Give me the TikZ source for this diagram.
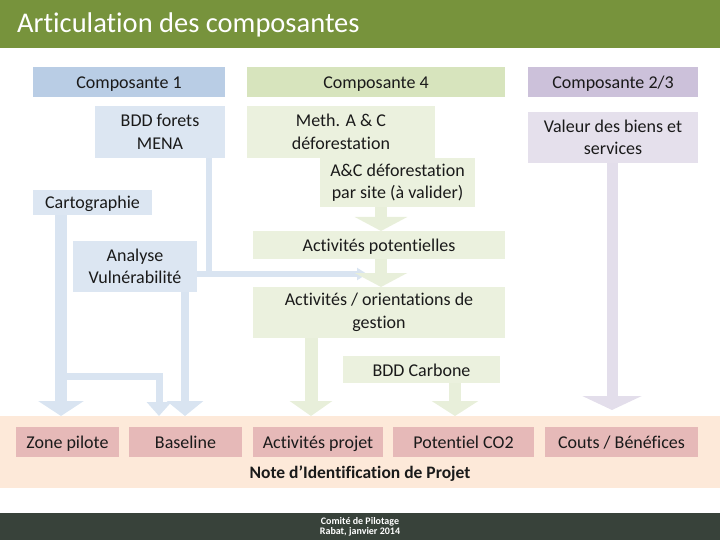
\documentclass[tikz,border=0pt]{standalone}
\usepackage{fontspec}
\setmainfont{Carlito}[Ligatures={NoCommon}]
\usetikzlibrary{arrows.meta,calc}
\definecolor{titlegreen}{HTML}{77933C}
\definecolor{footer}{HTML}{38423A}
\definecolor{cAhead}{HTML}{B9CDE5}
\definecolor{cAbox}{HTML}{DCE6F2}
\definecolor{cAarr}{HTML}{D9E4F1}
\definecolor{cBhead}{HTML}{D7E4BD}
\definecolor{cBbox}{HTML}{EBF1DE}
\definecolor{cBarr}{HTML}{E8EFDA}
\definecolor{cChead}{HTML}{CCC1DA}
\definecolor{cCbox}{HTML}{E5E0EC}
\definecolor{cCarr}{HTML}{E3DEEB}
\definecolor{peach}{HTML}{FDE9D9}
\definecolor{pinkbox}{HTML}{E6B9B8}
\definecolor{txt}{HTML}{1A1A1A}
\pgfdeclarelayer{back}
\pgfdeclarelayer{mid}
\pgfsetlayers{back,mid,main}
\begin{document}
\begin{tikzpicture}[x=1pt,y={(0pt,-1pt)},
  box/.style={inner sep=0pt, outer sep=0pt, align=center, anchor=north west, text=txt, font=\fontsize{18}{22.5}\selectfont},
  one/.style={box, text height=14pt, text depth=1pt},
  bl/.style={draw=cAarr, line join=miter},
  gr/.style={draw=cBarr, line join=miter},
  pu/.style={draw=cCarr, line join=miter}]
\useasboundingbox (0,0) rectangle (720,540);
% title bar
\fill[titlegreen] (0,0) rectangle (720,48);
\node[anchor=west, text=white, inner sep=0pt, font=\fontsize{28.5}{30}\selectfont] (title) at (17,25) {Articulation des composantes};
% footer
\fill[footer] (0,513) rectangle (720,540);
\node[text=white, align=center, inner sep=0pt, font=\bfseries\fontsize{10}{10.5}\selectfont] (foot) at (360,527) {Comité de Pilotage\\Rabat, janvier 2014};
% band
\begin{pgfonlayer}{back}
\node[anchor=north west, fill=peach, minimum width=720pt, minimum height=72pt, inner sep=0pt] (band) at (0,416) {};
\end{pgfonlayer}
% composante 1
\node[one, fill=cAhead, minimum width=192pt, minimum height=30pt] (c1) at (33,67) {Composante 1};
\node[box, fill=cAbox, minimum width=130pt, minimum height=52pt] (bdd) at (95,106) {BDD forets\\MENA};
\node[one, fill=cAbox, minimum width=119pt, minimum height=25pt] (carto) at (33,190) {Cartographie};
\node[box, fill=cAbox, minimum width=124pt, minimum height=51pt] (vuln) at (73,241) {Analyse\\Vulnérabilité};
% composante 4
\node[one, fill=cBhead, minimum width=258pt, minimum height=30pt] (c4) at (247,67) {Composante 4};
\node[box, fill=cBbox, minimum width=188pt, minimum height=52pt] (meth) at (247,106) {Meth. A \& C\\déforestation};
\node[box, fill=cBbox, minimum width=155pt, minimum height=49pt] (acsite) at (320,158) {A\&C déforestation\\par site (à valider)};
\node[one, fill=cBbox, minimum width=252pt, minimum height=28pt] (actpot) at (253,231) {Activités potentielles};
\node[box, fill=cBbox, minimum width=252pt, minimum height=51pt] (actor) at (253,287) {Activités / orientations de\\gestion};
\node[one, fill=cBbox, minimum width=157pt, minimum height=27pt] (bddc) at (343,356) {BDD Carbone};
% composante 2/3
\node[one, fill=cChead, minimum width=170pt, minimum height=30pt] (c23) at (528,67) {Composante 2/3};
\node[box, fill=cCbox, minimum width=170pt, minimum height=51pt] (val) at (528,112) {Valeur des biens et\\services};
% outputs
\node[one, fill=pinkbox, minimum width=103pt, minimum height=30pt] (zone) at (16,427) {Zone pilote};
\node[one, fill=pinkbox, minimum width=113pt, minimum height=30pt] (base) at (129,427) {Baseline};
\node[one, fill=pinkbox, minimum width=130pt, minimum height=30pt] (actproj) at (253,427) {Activités projet};
\node[one, fill=pinkbox, minimum width=141pt, minimum height=30pt] (co2) at (393,427) {Potentiel CO2};
\node[one, fill=pinkbox, minimum width=153pt, minimum height=30pt] (cout) at (545,427) {Couts / Bénéfices};
\node[text=txt, inner sep=0pt, font=\bfseries\fontsize{17.5}{20}\selectfont] (note) at (360,474) {Note d’Identification de Projet};
% helper coordinates
\coordinate (sx1) at (61,0);
\coordinate (j1) at (61,376);
\coordinate (sx2) at (159,0);
\coordinate (sx3) at (185,0);
\coordinate (sx4) at (209,0);
\coordinate (tipb) at (367,274);
\coordinate (sx5) at (381,0);
\coordinate (sx6) at (311,0);
\coordinate (sx7) at (455,0);
\coordinate (sx8) at (612,0);
\coordinate (purptip) at (612,410);
% connectors
\begin{pgfonlayer}{mid}
\draw[bl, line width=12pt, -{Triangle[width=45pt,length=15pt]}] (carto.south -| sx1) -- (sx1 |- band.north);
\draw[bl, line width=7pt, -{Triangle[width=24pt,length=14pt]}] (j1) -| (sx2 |- band.north);
\draw[bl, line width=8pt, -{Triangle[width=36pt,length=15pt]}] (vuln.south -| sx3) -- (sx3 |- band.north);
\draw[bl, line width=6pt] (bdd.south -| sx4) -- ($(sx4 |- tipb)+(0,3)$);
\draw[bl, line width=6pt, -{Triangle[width=12pt,length=10pt]}] (vuln.east |- tipb) -- (tipb);
\draw[gr, line width=12pt, -{Triangle[width=52pt,length=14pt]}] (acsite.south -| sx5) -- (actpot.north -| sx5);
\draw[gr, line width=12pt, -{Triangle[width=52pt,length=14pt]}] (actpot.south -| sx5) -- (actor.north -| sx5);
\draw[gr, line width=13pt, -{Triangle[width=42pt,length=15pt]}] (actor.south -| sx6) -- (sx6 |- band.north);
\draw[gr, line width=12pt, -{Triangle[width=46pt,length=15pt]}] (bddc.south -| sx7) -- (sx7 |- band.north);
\draw[pu, line width=11pt, -{Triangle[width=59pt,length=14pt]}] (val.south -| sx8) -- (purptip);
\end{pgfonlayer}
\end{tikzpicture}
\end{document}
